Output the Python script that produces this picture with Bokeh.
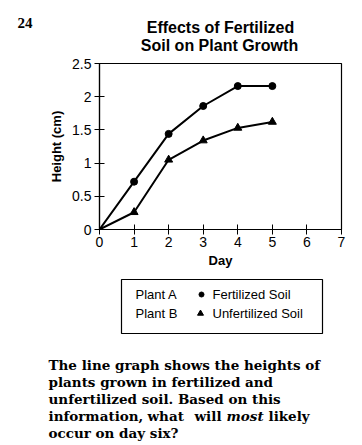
from bokeh.plotting import figure
from bokeh.layouts import column
from bokeh.models import Range1d, FixedTicker, Label
from bokeh.embed import file_html
from bokeh.resources import INLINE

days = [0, 1, 2, 3, 4, 5]
plant_a = [0, 0.72, 1.44, 1.86, 2.16, 2.16]
plant_b = [0, 0.26, 1.05, 1.34, 1.53, 1.62]
x_ticks = [0, 1, 2, 3, 4, 5, 6, 7]
y_ticks = [0, 0.5, 1, 1.5, 2, 2.5]
y_tick_labels = ["0", "0.5", "1", "1.5", "2", "2.5"]
legend_plants = ["Plant A", "Plant B"]
legend_soils = ["Fertilized Soil", "Unfertilized Soil"]

W = 356
TOP_H = 53          # page y 0..53
MAIN_H = 217        # page y 53..270
BOT_H = 172         # page y 270..442
FL, FT, FR, FB = 99, 63, 341, 229


def blank(h, y0):
    f = figure(width=W, height=h, output_backend="svg", toolbar_location=None,
               x_range=Range1d(0, W), y_range=Range1d(y0 + h, y0),
               x_axis_location=None, y_axis_location=None,
               min_border=0)
    f.frame_align = False
    f.grid.visible = False
    f.outline_line_color = None
    return f


def L(f, text, cx, cy, size="13px", font="Liberation Sans", style="normal",
      align="left"):
    f.add_layout(Label(x=cx, y=cy, text=text, text_font=font, text_font_size=size,
                       text_font_style=style, text_color="black",
                       text_baseline="middle", text_align=align))


# --- title area
top = blank(TOP_H, 0)
L(top, "24", 17, 22, size="15px", font="Liberation Serif", style="bold")
L(top, "Effects of Fertilized", 220, 27, size="16px", style="bold", align="center")
L(top, "Soil on Plant Growth", 219, 45, size="16px", style="bold", align="center")

# --- chart
p = figure(width=W, height=MAIN_H, output_backend="svg", toolbar_location=None,
           x_range=Range1d(0, 7), y_range=Range1d(0, 2.5),
           min_border_left=FL, min_border_top=FT - TOP_H,
           min_border_right=W - FR, min_border_bottom=TOP_H + MAIN_H - FB)
p.frame_align = False
p.grid.visible = False
p.outline_line_color = "black"
p.outline_line_width = 1.2

for ax in (p.xaxis[0], p.yaxis[0]):
    ax.axis_line_color = "black"
    ax.axis_line_width = 1.2
    ax.major_tick_in = 5
    ax.major_tick_out = 5
    ax.major_tick_line_color = "black"
    ax.minor_tick_line_color = None
    ax.major_label_text_font = "Liberation Sans"
    ax.major_label_text_font_size = "14px"
    ax.major_label_text_color = "black"
    ax.axis_label_text_font = "Liberation Sans"
    ax.axis_label_text_font_style = "bold"
    ax.axis_label_text_font_size = "13px"
    ax.axis_label_text_color = "black"

p.xaxis.ticker = FixedTicker(ticks=x_ticks)
p.yaxis.ticker = FixedTicker(ticks=y_ticks)
p.yaxis.major_label_overrides = {t: l for t, l in zip(y_ticks, y_tick_labels)}
p.xaxis.axis_label = "Day"
p.yaxis.axis_label = "Height (cm)"
p.xaxis.major_label_standoff = 2
p.yaxis.major_label_standoff = 3
p.xaxis.axis_label_standoff = 3
p.yaxis.axis_label_standoff = 5

p.line(days, plant_a, line_color="black", line_width=2)
p.scatter(days[1:], plant_a[1:], marker="circle", size=7, color="black")
p.line(days, plant_b, line_color="black", line_width=2)
p.scatter(days[1:], plant_b[1:], marker="triangle", size=8, color="black")

# --- legend and question
bot = blank(BOT_H, TOP_H + MAIN_H)
bot.quad(left=121, right=322, top=279, bottom=333, fill_color=None,
         line_color="black", line_width=1.2)
L(bot, legend_plants[0], 135, 294)
L(bot, legend_plants[1], 135, 313)
bot.scatter([201], [294], marker="circle", size=5, color="black")
bot.scatter([200], [313], marker="triangle", size=6, color="black")
L(bot, legend_soils[0], 212, 294)
L(bot, legend_soils[1], 212, 313)

sf = "DejaVu Serif"
Q = dict(size="13.5px", font=sf, style="bold")
L(bot, "The line graph shows the heights of", 48, 364, **Q)
L(bot, "plants grown in fertilized and", 48, 381, **Q)
L(bot, "unfertilized soil. Based on this", 48, 398, **Q)
L(bot, "information,", 48, 415, **Q)
L(bot, "what", 147, 415, **Q)
L(bot, "will", 194, 415, **Q)
L(bot, "most", 226, 415, size="13.5px", font=sf, style="bold italic")
L(bot, "likely", 268, 415, **Q)
L(bot, "occur on day six?", 48, 432, **Q)

layout = column(top, p, bot, spacing=0)
open("out.html", "w").write(file_html(layout, INLINE))
